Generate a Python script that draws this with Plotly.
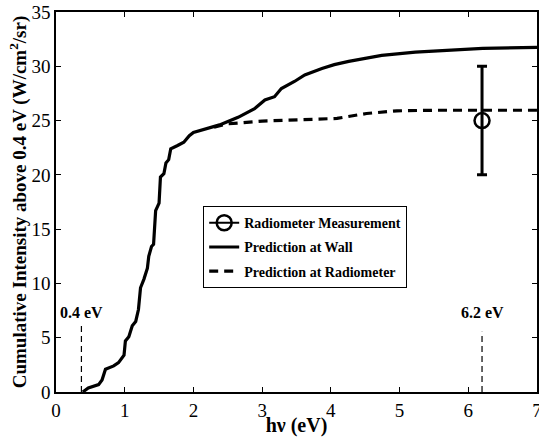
import plotly.graph_objects as go

# Prediction at wall
wall_x = [0.39, 0.47, 0.62, 0.67, 0.72, 0.84, 0.91, 0.94, 0.99, 1.01, 1.06, 1.11, 1.16, 1.20, 1.23,
          1.28, 1.33, 1.35, 1.39, 1.42, 1.45, 1.50, 1.52, 1.57, 1.60, 1.64, 1.67, 1.77, 1.86, 1.94,
          2.00, 2.38, 2.65, 2.89, 3.04, 3.18, 3.28, 3.47, 3.62, 3.87, 4.05, 4.26, 4.5, 4.74, 5.23,
          5.72, 6.21, 7.0]
wall_y = [0, 0.37, 0.68, 1.1, 2.1, 2.4, 2.7, 3.0, 3.4, 4.7, 5.1, 6.1, 6.5, 7.6, 9.6,
          10.4, 11.4, 12.5, 13.4, 13.6, 16.7, 17.4, 19.8, 20.1, 21.1, 21.4, 22.4, 22.7, 23.0, 23.6,
          23.9, 24.6, 25.3, 26.1, 26.9, 27.2, 27.95, 28.6, 29.2, 29.8, 30.15, 30.45, 30.75, 31.0, 31.3,
          31.5, 31.65, 31.75]

# Prediction at radiometer (diverges from wall curve)
rad_x = [2.3, 2.5, 3.0, 3.57, 4.09, 4.23, 4.52, 4.96, 5.5, 7.0]
rad_y = [24.4, 24.7, 24.95, 25.1, 25.2, 25.35, 25.65, 25.9, 25.95, 25.95]

# Radiometer measurement
meas_x = [6.2]
meas_y = [25]
meas_err = [5]

# Reference markers
ref_x = [0.37, 6.2]
ref_top = [6.1, 5.55]
ref_labels = ["0.4 eV", "6.2 eV"]
ref_label_y = [7.3, 7.3]

FONT = "Liberation Serif"

fig = go.Figure()

fig.add_trace(go.Scatter(
    x=meas_x, y=meas_y, mode="lines+markers", name="<b>Radiometer Measurement</b>",
    line=dict(color="black", width=2),
    marker=dict(symbol="circle-open", size=15, color="black", line=dict(width=2.5)),
    error_y=dict(type="data", array=meas_err, visible=True, color="black", thickness=3, width=5),
    legendgroup="a",
))
fig.add_trace(go.Scatter(
    x=wall_x, y=wall_y, mode="lines", name="<b>Prediction at Wall</b>",
    line=dict(color="black", width=3.2), legendgroup="b",
))
fig.add_trace(go.Scatter(
    x=rad_x, y=rad_y, mode="lines", name="<b>Prediction at Radiometer</b>",
    line=dict(color="black", width=3.2, dash="9px,6px"), legendgroup="c",
))

for xv, top, lab, ly in zip(ref_x, ref_top, ref_labels, ref_label_y):
    fig.add_trace(go.Scatter(
        x=[xv, xv], y=[0, top], mode="lines", showlegend=False,
        line=dict(color="black", width=1.2, dash="6px,4px"),
    ))
    fig.add_annotation(x=xv, y=ly, text="<b>%s</b>" % lab, showarrow=False,
                       font=dict(family=FONT, size=16, color="black"))

axis_common = dict(
    showgrid=False, zeroline=False, showline=True, linecolor="black", linewidth=1.5,
    mirror="allticks", ticks="inside", ticklen=5, tickwidth=1.2, tickcolor="black",
    tickfont=dict(family=FONT, size=19, color="black"), ticklabeloverflow="allow",
    automargin=False,
)

fig.update_xaxes(range=[0, 7], dtick=1, tick0=0,
                 title=dict(text="<b>hν (eV)</b>", font=dict(family=FONT, size=20, color="black"), standoff=0),
                 **axis_common)
fig.update_yaxes(range=[0, 35], dtick=5, tick0=0,
                 title=dict(text="<b>Cumulative Intensity above 0.4 eV (W/cm<sup>2</sup>/sr)</b>",
                            font=dict(family=FONT, size=19, color="black"), standoff=0),
                 **axis_common)

fig.update_layout(
    width=539, height=437,
    margin=dict(l=56, r=2, t=12, b=45),
    plot_bgcolor="white", paper_bgcolor="white",
    showlegend=True,
    legend=dict(x=0.306, y=0.489, xanchor="left", yanchor="top",
                bgcolor="white", bordercolor="black", borderwidth=1,
                font=dict(family=FONT, size=14, color="black"),
                tracegroupgap=3, itemwidth=30),
)

fig.write_html("out.html")
